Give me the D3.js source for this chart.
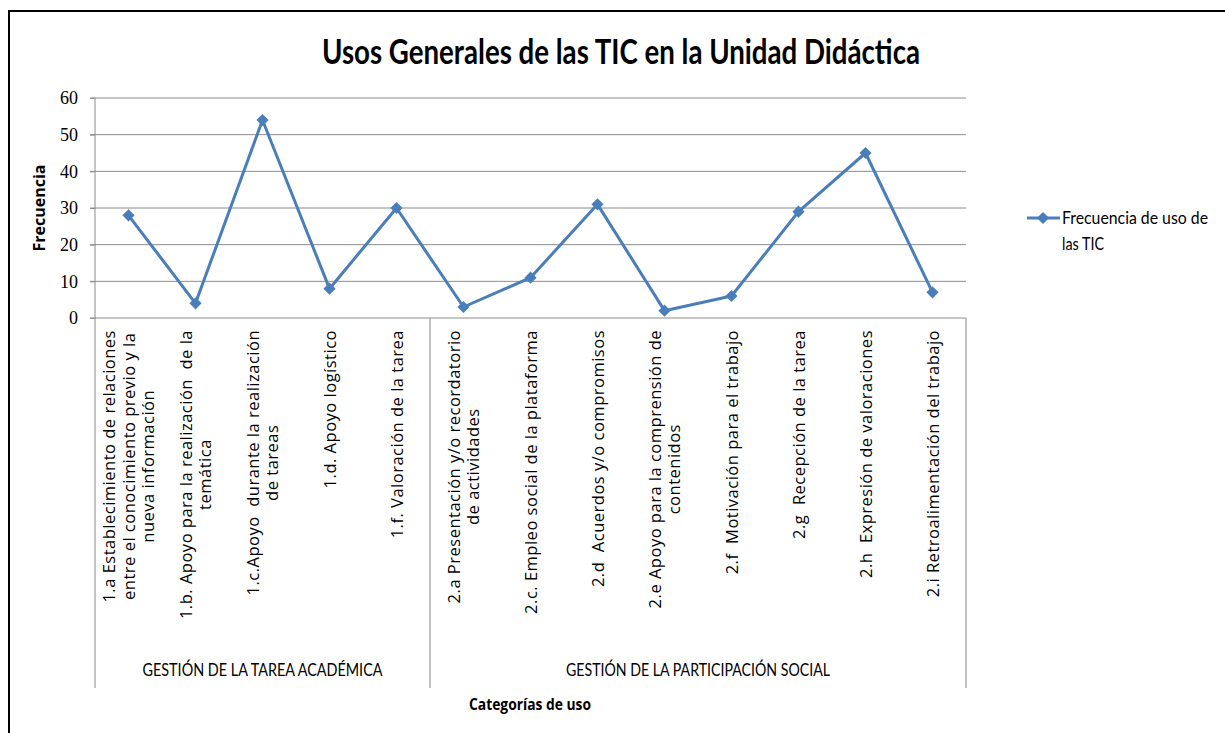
<!DOCTYPE html>
<html>
<head>
<meta charset="utf-8">
<script src="https://cdn.jsdelivr.net/npm/d3@7"></script>
<style>
  body { margin: 0; background: #fff; }
  text { font-family: Lato, "Open Sans", sans-serif; fill: #000; }
</style>
</head>
<body>
<div id="chart"></div>
<script>
// data
var categories = [
    ["1.a Establecimiento de relaciones", "entre el conocimiento previo y la", "nueva información"],
    ["1.b. Apoyo para la realización  de la", "temática"],
    ["1.c.Apoyo  durante la realización", "de tareas"],
    ["1.d. Apoyo logístico"],
    ["1.f. Valoración de la tarea"],
    ["2.a Presentación y/o recordatorio", "de actividades"],
    ["2.c. Empleo social de la plataforma"],
    ["2.d  Acuerdos y/o compromisos"],
    ["2.e Apoyo para la comprensión de", "contenidos"],
    ["2.f  Motivación para el trabajo"],
    ["2.g  Recepción de la tarea"],
    ["2.h  Expresión de valoraciones"],
    ["2.i Retroalimentación del trabajo"]
];
var frecuencia = [28, 4, 54, 8, 30, 3, 11, 31, 2, 6, 29, 45, 7];
var groups = ["GESTIÓN DE LA TAREA ACADÉMICA", "GESTIÓN DE LA PARTICIPACIÓN SOCIAL"];
var groupSizes = [5, 8];
var yTicks = [0, 10, 20, 30, 40, 50, 60];

// setup
var width = 1225, height = 733;
var plotLeft = 95, plotRight = 966, plotTop = 98, plotBottom = 318, axisEnd = 688;
var blue = "#4a7ebb";
var gridColor = "#8c8c8c";

var svg = d3.select("#chart").append("svg")
    .attr("width", width)
    .attr("height", height);

// outer border
svg.append("rect")
    .attr("x", 9).attr("y", 11)
    .attr("width", width + 10).attr("height", height + 10)
    .attr("fill", "none")
    .attr("stroke", "#000")
    .attr("stroke-width", 2);

var idx = d3.range(categories.length);
var xScale = d3.scaleBand().domain(idx).range([plotLeft, plotRight]);
var yScale = d3.scaleLinear().domain([0, 60]).range([plotBottom, plotTop]);

// grid lines
svg.append("g")
    .selectAll("line")
    .data(yTicks)
    .join("line")
    .attr("x1", plotLeft - 5).attr("x2", plotRight)
    .attr("y1", function (d) { return yScale(d); })
    .attr("y2", function (d) { return yScale(d); })
    .attr("stroke", gridColor)
    .attr("stroke-width", 1);

// y axis
var yAxis = svg.append("g")
    .attr("transform", "translate(" + plotLeft + ",0)")
    .call(d3.axisLeft(yScale).tickValues(yTicks).tickSize(5).tickPadding(12));
yAxis.select(".domain").remove();
yAxis.selectAll(".tick line").attr("stroke", gridColor);
yAxis.selectAll(".tick text")
    .style("font-family", "'Liberation Serif', serif")
    .style("font-size", "18px");

svg.append("line")
    .attr("x1", plotLeft).attr("x2", plotLeft)
    .attr("y1", plotTop).attr("y2", axisEnd)
    .attr("stroke", gridColor);

// group separators
var cum = 0;
var bounds = [0];
groupSizes.forEach(function (s) { cum += s; bounds.push(cum); });
bounds.slice(1).forEach(function (b) {
    var x = plotLeft + b * xScale.bandwidth();
    svg.append("line")
        .attr("x1", x).attr("x2", x)
        .attr("y1", plotBottom).attr("y2", axisEnd)
        .attr("stroke", gridColor);
});

// category labels
var labelG = svg.append("g");
idx.forEach(function (i) {
    var lines = categories[i];
    var cx = xScale(i) + xScale.bandwidth() / 2;
    var t = labelG.append("text")
        .style("font-family", "'Open Sans', sans-serif")
        .style("white-space", "pre")
        .attr("font-size", "16.5px")
        .attr("letter-spacing", "0.5px")
        .attr("text-anchor", "middle");
    lines.forEach(function (l, j) {
        t.append("tspan").attr("x", 0).attr("y", 0)
            .attr("dy", ((j - (lines.length - 1) / 2) * 19.5 + 6) + "px")
            .text(l);
    });
    var maxW = 0;
    t.selectAll("tspan").each(function () {
        maxW = Math.max(maxW, this.getComputedTextLength());
    });
    t.attr("transform", "translate(" + cx + "," + (330 + maxW / 2) + ") rotate(-90)");
});

// group labels
var groupWidths = [240, 264];
groups.forEach(function (g, k) {
    var x0 = plotLeft + bounds[k] * xScale.bandwidth();
    var x1 = plotLeft + bounds[k + 1] * xScale.bandwidth();
    svg.append("text")
        .attr("x", (x0 + x1) / 2)
        .attr("y", 676)
        .attr("text-anchor", "middle")
        .attr("font-size", "17px")
        .attr("textLength", groupWidths[k])
        .attr("lengthAdjust", "spacingAndGlyphs")
        .text(g);
});

// line
var line = d3.line()
    .x(function (d, i) { return xScale(i) + xScale.bandwidth() / 2; })
    .y(function (d) { return yScale(d); });

svg.append("path")
    .attr("d", line(frecuencia))
    .attr("fill", "none")
    .attr("stroke", blue)
    .attr("stroke-width", 3)
    .attr("stroke-linejoin", "round");

var diamond = d3.symbol().type(d3.symbolDiamond2).size(95);
svg.append("g")
    .selectAll("path")
    .data(frecuencia)
    .join("path")
    .attr("d", diamond)
    .attr("transform", function (d, i) {
        return "translate(" + (xScale(i) + xScale.bandwidth() / 2) + "," + yScale(d) + ")";
    })
    .attr("fill", blue);

// title
svg.append("text")
    .attr("x", 621).attr("y", 64)
    .attr("text-anchor", "middle")
    .attr("font-size", "34px")
    .attr("font-weight", "bold")
    .attr("textLength", 598)
    .attr("lengthAdjust", "spacingAndGlyphs")
    .text("Usos Generales de las TIC en la Unidad Didáctica");

// axis titles
svg.append("text")
    .attr("transform", "translate(45,208) rotate(-90)")
    .attr("text-anchor", "middle")
    .attr("font-size", "16px")
    .attr("font-weight", "bold")
    .style("font-family", "'Open Sans', sans-serif")
    .text("Frecuencia");

svg.append("text")
    .attr("x", 530).attr("y", 710)
    .attr("text-anchor", "middle")
    .attr("font-size", "16px")
    .attr("font-weight", "bold")
    .style("font-family", "'Open Sans', sans-serif")
    .attr("textLength", 122)
    .attr("lengthAdjust", "spacingAndGlyphs")
    .text("Categorías de uso");

// legend
svg.append("line")
    .attr("x1", 1027).attr("x2", 1060)
    .attr("y1", 218).attr("y2", 218)
    .attr("stroke", blue).attr("stroke-width", 3);
svg.append("path")
    .attr("d", diamond)
    .attr("transform", "translate(1043,218)")
    .attr("fill", blue);
svg.append("text")
    .attr("x", 1062).attr("y", 224)
    .attr("font-size", "17px")
    .attr("textLength", 146)
    .attr("lengthAdjust", "spacingAndGlyphs")
    .text("Frecuencia de uso de");
svg.append("text")
    .attr("x", 1062).attr("y", 250)
    .attr("font-size", "17px")
    .attr("textLength", 42)
    .attr("lengthAdjust", "spacingAndGlyphs")
    .text("las TIC");
</script>
</body>
</html>
